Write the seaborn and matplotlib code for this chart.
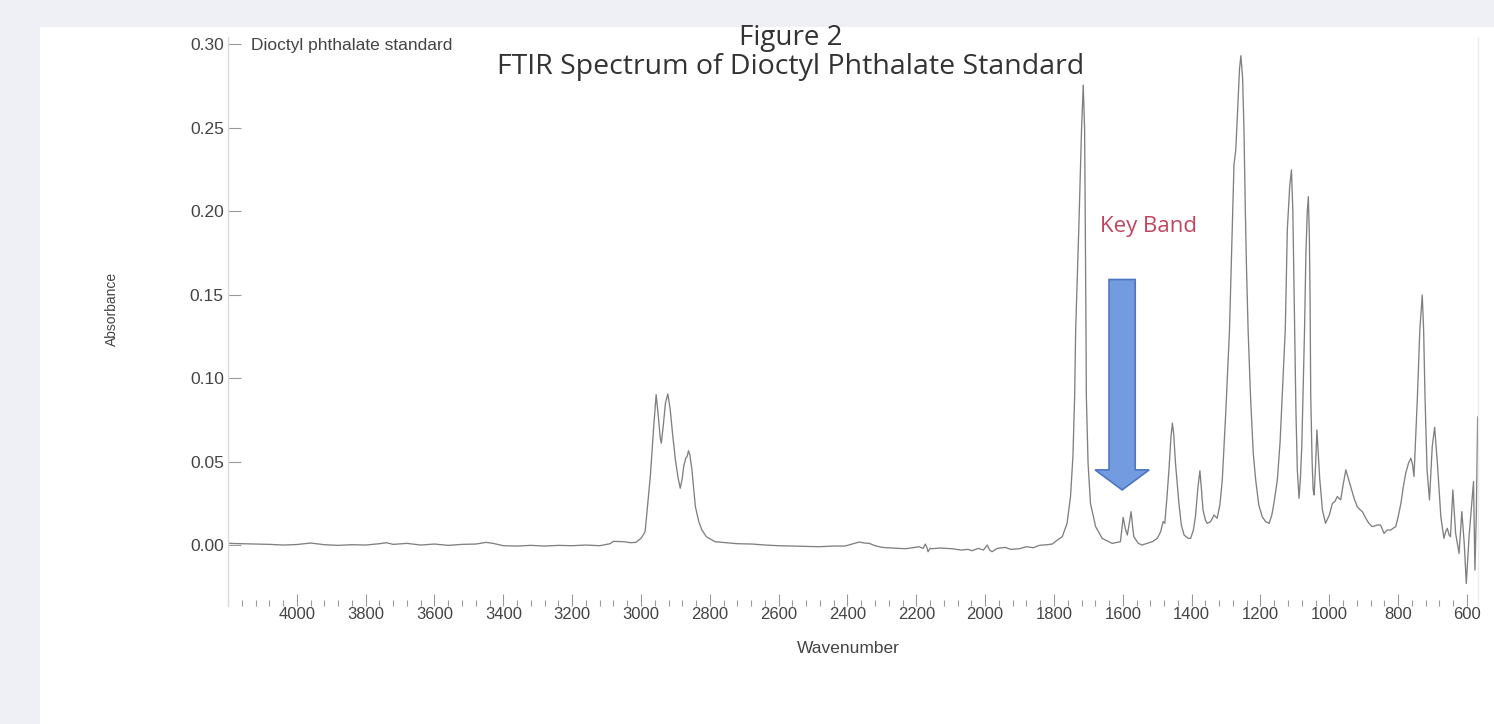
import matplotlib
matplotlib.use('Agg')
import matplotlib.pyplot as plt
import matplotlib.patches as mpatches
from matplotlib.ticker import FixedLocator, MultipleLocator
import seaborn as sns
import pandas as pd

# spectrum (wavenumber cm-1, absorbance)
wavenumber = [
    4200, 4160, 4120, 4080, 4040, 4000, 3960, 3920, 3880, 3840, 3800, 3760, 3740, 3720,
    3680, 3640, 3600, 3560, 3520, 3480, 3450, 3430, 3400, 3360, 3320, 3280, 3240, 3200,
    3160, 3120, 3090, 3080, 3050, 3030, 3015, 3000, 2988,
    2983, 2973, 2963, 2956, 2950, 2944, 2941, 2935, 2929, 2922, 2915, 2908, 2900, 2892,
    2886, 2880, 2876, 2870, 2866, 2862, 2858, 2852, 2847, 2842, 2832, 2823, 2810, 2785,
    2760, 2720, 2677, 2640, 2600, 2560, 2520, 2483, 2440, 2407, 2380, 2366, 2350, 2337,
    2320, 2299, 2270, 2232, 2210, 2192, 2180, 2174, 2170, 2166, 2160, 2154, 2130, 2096,
    2070, 2050, 2038, 2020, 2005, 1994, 1987, 1980, 1965, 1942, 1925, 1901, 1880, 1860,
    1843, 1820, 1805, 1790, 1776, 1762, 1752, 1745, 1740, 1737, 1728, 1720, 1715, 1711,
    1709, 1707, 1706, 1701, 1694, 1679, 1660, 1631, 1607, 1599, 1593, 1587, 1582, 1576,
    1571, 1568, 1555, 1544, 1530, 1514, 1500, 1490, 1483, 1478, 1472, 1466, 1460, 1456,
    1452, 1447, 1437, 1430, 1422, 1410, 1403, 1395, 1389, 1382, 1376, 1371, 1367, 1360,
    1355, 1345, 1335, 1326, 1318, 1311, 1301, 1290, 1282, 1277, 1272, 1266, 1261, 1257,
    1252, 1248, 1244, 1241, 1236, 1229, 1221, 1214, 1205, 1195, 1185, 1175, 1167, 1161,
    1151, 1143, 1137, 1128, 1122, 1115, 1110, 1106, 1103, 1100, 1097, 1093, 1088, 1084,
    1080, 1076, 1072, 1068, 1064, 1061, 1058, 1056, 1054, 1050, 1047, 1044, 1040, 1036,
    1032, 1028, 1020, 1011, 1000, 991, 984, 977, 967, 960, 952, 945, 938, 928, 919, 910,
    904, 894, 885, 875, 860, 851, 845, 841, 832, 822, 815, 807, 800, 792, 785, 778, 770,
    763, 758, 754, 749, 744, 737, 730, 726, 722, 716, 709, 701, 694, 686, 676, 667, 662,
    657, 652, 648, 641, 633, 623, 615, 608, 602, 594, 586, 581, 577, 573, 569,
]
absorbance = [
    0.0010, 0.0008, 0.0006, 0.0004, 0.0000, 0.0003, 0.0012, 0.0002, -0.0002, 0.0002,
    0.0000, 0.0008, 0.0014, 0.0004, 0.0010, 0.0000, 0.0006, -0.0002, 0.0004, 0.0006,
    0.0016, 0.0010, -0.0004, -0.0006, -0.0002, -0.0006, -0.0002, -0.0004, 0.0000,
    -0.0004, 0.0008, 0.0022, 0.0020, 0.0014, 0.0016, 0.0040, 0.0080,
    0.019, 0.041, 0.071, 0.090, 0.078, 0.064, 0.061, 0.072, 0.085, 0.0905, 0.081, 0.066,
    0.051, 0.040, 0.034, 0.040, 0.047, 0.052, 0.053, 0.0565, 0.054, 0.045, 0.034, 0.023,
    0.014, 0.009, 0.005, 0.002,
    0.0015, 0.0008, 0.0006, 0.0000, -0.0004, -0.0006, -0.0008, -0.0010, -0.0006,
    -0.0006, 0.0010, 0.0018, 0.0012, 0.0010,
    -0.0004, -0.0014, -0.0018, -0.0022, -0.0016, -0.0010, -0.0020, 0.0006, -0.0010,
    -0.0040, -0.0020, -0.0022, -0.0018, -0.0022,
    -0.0030, -0.0026, -0.0034, -0.0020, -0.0030, 0.0000, -0.0030, -0.0040, -0.0020,
    -0.0014, -0.0026, -0.0022, -0.0010, -0.0016,
    -0.0002, 0.0002, 0.0006, 0.0030, 0.0050, 0.0130, 0.029, 0.053, 0.089, 0.129, 0.189,
    0.2485, 0.2754, 0.2485,
    0.189, 0.129, 0.089, 0.049, 0.025, 0.011, 0.004, 0.001, 0.002, 0.0166, 0.010, 0.006,
    0.012, 0.020,
    0.010, 0.005, 0.001, 0.000, 0.001, 0.002, 0.004, 0.008, 0.014, 0.013, 0.028, 0.045,
    0.065, 0.073,
    0.066, 0.049, 0.025, 0.012, 0.006, 0.004, 0.004, 0.009, 0.017, 0.034, 0.0445, 0.032,
    0.021, 0.015,
    0.013, 0.014, 0.018, 0.016, 0.024, 0.039, 0.079, 0.129, 0.190, 0.228, 0.236, 0.262,
    0.285, 0.293,
    0.280, 0.2485, 0.200, 0.169, 0.129, 0.089, 0.055, 0.039, 0.024, 0.017, 0.014, 0.013,
    0.018, 0.025,
    0.039, 0.062, 0.089, 0.129, 0.189, 0.215, 0.2246, 0.200, 0.160, 0.120, 0.080, 0.045,
    0.028, 0.040,
    0.059, 0.095, 0.129, 0.175, 0.200, 0.2086, 0.185, 0.149, 0.089, 0.050, 0.033, 0.030,
    0.048, 0.0689,
    0.055, 0.040, 0.021, 0.013, 0.018, 0.025, 0.026, 0.029, 0.027, 0.036, 0.045, 0.040,
    0.035, 0.028, 0.023, 0.021,
    0.020, 0.016, 0.013, 0.011, 0.012, 0.012, 0.009, 0.007, 0.009, 0.009, 0.010, 0.011,
    0.017, 0.025, 0.035, 0.043, 0.049,
    0.052, 0.048, 0.041, 0.065, 0.089, 0.129, 0.1497, 0.129, 0.089, 0.045, 0.027, 0.059,
    0.0705, 0.049, 0.017, 0.004, 0.008,
    0.010, 0.006, 0.005, 0.033, 0.007, -0.005, 0.020, 0.001, -0.023, 0.005, 0.025, 0.038,
    -0.015, 0.017, 0.0768,
]

major_ticks = [4000, 3800, 3600, 3400, 3200, 3000, 2800, 2600, 2400, 2200,
               2000, 1800, 1600, 1400, 1200, 1000, 800, 600]
y_ticks = [0.00, 0.05, 0.10, 0.15, 0.20, 0.25, 0.30]

# key band arrow (points down at the 1600 cm-1 doublet)
band_x = 1602
band_top = 0.159
band_tip = 0.033

df = pd.DataFrame({'Wavenumber': wavenumber, 'Absorbance': absorbance})

sns.set_style('white')
plt.rcParams['font.family'] = ['Liberation Sans', 'DejaVu Sans']

fig = plt.figure(figsize=(14.94, 7.24), dpi=100)
fig.patch.set_facecolor('#eef0f5')
# white page area behind the chart
fig.patches.append(mpatches.Rectangle((40 / 1494, 0), 1 - 40 / 1494, 1 - 27 / 724,
                                      transform=fig.transFigure, facecolor='white',
                                      edgecolor='none', zorder=-5))

ax = fig.add_axes([228 / 1494, 1 - 606 / 724, 1250 / 1494, 569 / 724])
ax.set_facecolor('none')

sns.lineplot(data=df, x='Wavenumber', y='Absorbance', ax=ax, color='#808080',
             linewidth=0.95, estimator=None)

ax.set_xlim(4200, 568)
ax.set_ylim(-0.0365, 0.3042)

ax.xaxis.set_major_locator(FixedLocator(major_ticks))
ax.xaxis.set_minor_locator(MultipleLocator(40))
ax.set_yticks(y_ticks)
ax.set_yticklabels([f'{v:.2f}' for v in y_ticks])

ax.tick_params(axis='x', which='major', direction='in', length=9, width=0.8,
               color='#9a9a9a', labelsize=12, labelcolor='#444444', pad=1, bottom=True)
ax.tick_params(axis='x', which='minor', direction='in', length=4, width=0.8,
               color='#9a9a9a', bottom=True)
ax.tick_params(axis='y', which='major', direction='in', length=9, width=0.8,
               color='#9a9a9a', labelsize=12.5, labelcolor='#444444', pad=3, left=True)

for side in ['top', 'bottom']:
    ax.spines[side].set_visible(False)
ax.spines['left'].set_color('#dcdcdc')
ax.spines['left'].set_linewidth(1.0)
ax.spines['right'].set_color('#ececec')
ax.spines['right'].set_linewidth(1.0)

ax.set_xlabel('Wavenumber', fontsize=12.5, color='#444444')
ax.xaxis.set_label_coords(0.496, -0.062)
ax.set_ylabel('Absorbance', fontsize=10, color='#444444',
              family=['Liberation Sans Narrow', 'Liberation Sans'])
ax.yaxis.set_label_coords(-0.087, 0.522)

ax.text(0.018, 0.985, 'Dioctyl phthalate standard', transform=ax.transAxes,
        fontsize=12.5, color='#444444', ha='left', va='center')

# title block
fig.text(0.529, 1 - 45 / 724, 'Figure 2', fontsize=20, color='#333333',
         ha='center', va='baseline', family=['Open Sans', 'DejaVu Sans'])
fig.text(0.529, 1 - 74 / 724, 'FTIR Spectrum of Dioctyl Phthalate Standard', fontsize=20.5,
         color='#333333', ha='center', va='baseline', family=['Open Sans', 'DejaVu Sans'])

# key band annotation
arrow = mpatches.FancyArrow(band_x, band_top, 0, band_tip - band_top, width=76,
                            head_width=157, head_length=0.012, length_includes_head=True,
                            facecolor='#729be0', edgecolor='#4d76c2', linewidth=1.2,
                            zorder=3)
ax.add_patch(arrow)
ax.text(1526, 0.1874, 'Key Band', fontsize=16, color='#c2455f', ha='center', va='baseline',
        family=['Open Sans', 'DejaVu Sans'])

plt.savefig('out.png', dpi=100)
plt.close()
